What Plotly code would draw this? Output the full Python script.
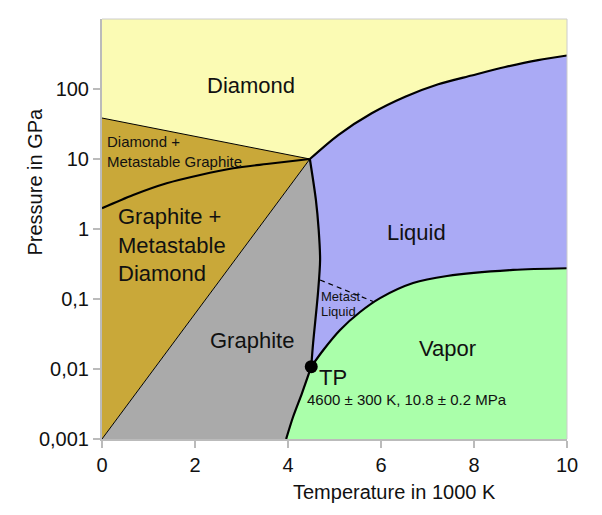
import plotly.graph_objects as go

# phase boundaries of carbon, T in 1000 K, P in GPa
# diamond / liquid
dl_T = [4.47, 5.08, 5.80, 6.52, 7.23, 7.95, 8.67, 9.38, 10.0]
dl_P = [10.0, 22.0, 45.0, 77.6, 117, 156, 206, 259, 301]

# graphite / liquid (melting line)
gl_T = [4.47, 4.60, 4.66, 4.69, 4.645, 4.54, 4.50]
gl_P = [10.0, 2.6, 0.97, 0.36, 0.122, 0.0234, 0.0108]

# liquid / vapor
lv_T = [4.50, 4.76, 5.12, 5.55, 5.98, 6.69, 7.42, 8.84, 10.0]
lv_P = [0.0108, 0.0187, 0.0361, 0.0652, 0.103, 0.169, 0.213, 0.260, 0.275]

# graphite / vapor (sublimation)
gv_T = [4.50, 4.30, 4.11, 3.96]
gv_P = [0.0108, 0.0045, 0.00208, 0.001]

# diamond + metastable graphite / graphite + metastable diamond
gd_T = [0.0, 0.67, 1.39, 2.11, 2.82, 3.54, 4.47]
gd_P = [1.98, 3.06, 4.50, 5.91, 7.37, 8.49, 10.0]

# diamond / diamond + metastable graphite (straight)
dm_T = [0.0, 4.47]
dm_P = [38.5, 10.0]

# graphite + metastable diamond / graphite (straight)
mg_T = [0.0, 4.47]
mg_P = [0.001, 10.0]

# metastable liquid (dashed)
ml_T = [4.69, 5.83]
ml_P = [0.187, 0.092]

tp_T = [4.50]
tp_P = [0.0108]

x_ticks = [0, 2, 4, 6, 8, 10]
y_ticks = [0.001, 0.01, 0.1, 1, 10, 100]
y_labels = ["0,001", "0,01", "0,1", "1", "10", "100"]

YELLOW = "#fbfbb4"
GOLD = "#c9a839"
GREY = "#aaaaaa"
LAVENDER = "#aaaaf5"
GREEN = "#aaffaa"

fig = go.Figure()


def area(xs, ys, color):
    fig.add_trace(go.Scatter(x=xs, y=ys, fill="toself", fillcolor=color,
                             mode="lines", line=dict(width=0, color=color),
                             hoverinfo="skip", showlegend=False))


def line(xs, ys, width, dash="solid", shape="spline"):
    fig.add_trace(go.Scatter(x=xs, y=ys, mode="lines",
                             line=dict(color="black", width=width, dash=dash,
                                       shape=shape, smoothing=0.8),
                             hoverinfo="skip", showlegend=False))


# filled regions, layered back to front
area([0, 10, 10, 0], [1000, 1000, 0.001, 0.001], YELLOW)
area([0] + dm_T[1:] + [0], [dm_P[0]] + dm_P[1:] + [0.001], GOLD)
area([0] + gl_T + gv_T + [0], [0.001] + gl_P + gv_P + [0.001], GREY)
area(dl_T + [10] + lv_T[::-1] + gl_T[::-1],
     dl_P + [0.001] + [0.275] + lv_P[::-1][1:] + [0.0108] + gl_P[::-1][1:],
     LAVENDER)
area(lv_T + [10] + gv_T[::-1], lv_P + [0.001] + gv_P[::-1], GREEN)

# boundaries
line(dm_T, dm_P, 1, shape="linear")
line(mg_T, mg_P, 1, shape="linear")
line(gd_T, gd_P, 2.2)
line(dl_T, dl_P, 2.2)
line(gl_T, gl_P, 2.2)
line(lv_T, lv_P, 2.2)
line(gv_T, gv_P, 2.2)
line(ml_T, ml_P, 1.2, dash="5px,4px", shape="linear")

fig.add_trace(go.Scatter(x=tp_T, y=tp_P, mode="markers",
                         marker=dict(color="black", size=13),
                         hoverinfo="skip", showlegend=False))

labels = [
    ("Diamond", 3.204, 2.057, 22, "center"),
    ("Diamond +<br>Metastable Graphite", 0.06, 1.107, 15, "left"),
    ("Graphite +<br>Metastable<br>Diamond", 0.30, -0.224, 22, "left"),
    ("Graphite", 3.226, -1.586, 22, "center"),
    ("Liquid", 6.774, -0.057, 22, "center"),
    ("Metast", 4.66, -0.967, 13, "left"),
    ("Liquid", 4.66, -1.181, 13, "left"),
    ("Vapor", 7.43, -1.70, 22, "center"),
    ("TP", 4.62, -2.124, 22, "left"),
    ("4600 ± 300 K, 10.8 ± 0.2 MPa", 4.36, -2.429, 15, "left"),
]
for txt, x, y, size, anchor in labels:
    fig.add_annotation(x=x, y=y, xref="x", yref="y", text=txt, showarrow=False,
                       xanchor=anchor, yanchor="middle", align="left",
                       font=dict(size=size, color="#111111"))

# axis titles (offset, not centred on the plot)
fig.add_annotation(x=(394 - 102) / 465, y=(439 - 491.7) / 420, xref="paper", yref="paper",
                   text="Temperature in 1000 K", showarrow=False,
                   xanchor="center", yanchor="middle", font=dict(size=20, color="#111111"))
fig.add_annotation(x=(35 - 102) / 465, y=(439 - 181.5) / 420, xref="paper", yref="paper",
                   text="Pressure in GPa", textangle=-90, showarrow=False,
                   xanchor="center", yanchor="middle", font=dict(size=20, color="#111111"))

# light frame on top and right
fig.add_shape(type="line", xref="paper", yref="paper", x0=0, x1=1, y0=1, y1=1,
              line=dict(color="#cccccc", width=1))
fig.add_shape(type="line", xref="paper", yref="paper", x0=1, x1=1, y0=0, y1=1,
              line=dict(color="#cccccc", width=1))

fig.update_xaxes(range=[0, 10], tickvals=x_ticks, ticks="outside", ticklen=7,
                 tickcolor="#bbbbbb", tickwidth=2, showline=True, linecolor="#bbbbbb",
                 linewidth=2, showgrid=False, zeroline=False,
                 tickfont=dict(size=20, color="#111111"))
fig.update_yaxes(type="log", range=[-3, 3], tickvals=y_ticks, ticktext=y_labels,
                 ticks="outside", ticklen=7, tickcolor="#bbbbbb", tickwidth=2,
                 showline=True, linecolor="#bbbbbb", linewidth=2, showgrid=False,
                 zeroline=False, tickfont=dict(size=20, color="#111111"))

# page body adds an 8px margin, so the figure is a little smaller than the window
fig.update_layout(
    width=594, height=507,
    margin=dict(l=94, r=35, t=11, b=76),
    paper_bgcolor="white", plot_bgcolor="white",
    font=dict(family="Liberation Sans, Arial, sans-serif", size=20, color="#111111"),
    showlegend=False,
)

fig.write_html("out.html")
